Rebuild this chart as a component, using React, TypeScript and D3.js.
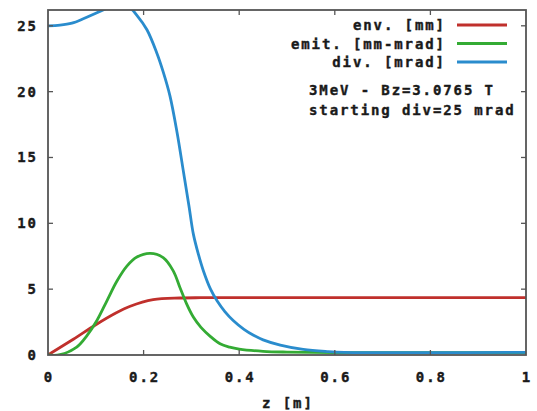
import React from "react";
import * as d3 from "d3";

const zEnv = [0, 0.053, 0.1, 0.14, 0.172, 0.22, 0.276, 0.32, 0.4, 1.0];
const env = [0, 1.2, 2.3, 3.15, 3.7, 4.2, 4.33, 4.35, 4.35, 4.35];

const zEmit = [0, 0.025, 0.06, 0.08, 0.102, 0.123, 0.144, 0.165, 0.186, 0.214, 0.241, 0.262, 0.276, 0.29, 0.304, 0.32, 0.34, 0.36, 0.38, 0.4, 0.45, 0.5, 0.6, 1.0];
const emit = [0, 0.02, 0.6, 1.4, 2.6, 4.1, 5.6, 6.75, 7.44, 7.72, 7.39, 6.39, 5.13, 3.88, 2.88, 2.1, 1.4, 0.85, 0.6, 0.45, 0.28, 0.22, 0.18, 0.18];

const zDiv = [0, 0.025, 0.05, 0.075, 0.1, 0.125, 0.15, 0.17, 0.186, 0.207, 0.228, 0.241, 0.255, 0.27, 0.283, 0.295, 0.304, 0.315, 0.325, 0.34, 0.354, 0.37, 0.388, 0.41, 0.43, 0.45, 0.486, 0.534, 0.584, 0.62, 1.0];
const div = [25.0, 25.05, 25.2, 25.55, 25.95, 26.35, 26.55, 26.4, 25.8, 24.7, 22.9, 21.5, 19.7, 16.9, 14.0, 11.3, 9.2, 7.6, 6.4, 5.0, 4.1, 3.3, 2.6, 1.95, 1.5, 1.15, 0.75, 0.42, 0.26, 0.2, 0.2];

const xTicks = [0, 0.2, 0.4, 0.6, 0.8, 1];
const xTickLabels = ["0", "0.2", "0.4", "0.6", "0.8", "1"];
const yTicks = [0, 5, 10, 15, 20, 25];
const yTickLabels = ["0", "5", "10", "15", "20", "25"];

const seriesNames = ["env. [mm]", "emit. [mm-mrad]", "div. [mrad]"];
const seriesColors = ["#c0302c", "#34ab34", "#2a8ccd"];
const notes = ["3MeV - Bz=3.0765 T", "starting div=25 mrad"];
const xTitle = "z [m]";

const W = 537, H = 411;
const L = 48, R = 526, T = 10, B = 355;

export default function App() {
  const x = d3.scaleLinear().domain([0, 1]).range([L, R]);
  const y = d3.scaleLinear().domain([0, 26.2]).range([B, T]);
  const line = (zs: number[], vs: number[]) =>
    d3.line<number>().x((_, i) => x(zs[i])).y((v) => y(v)).curve(d3.curveCatmullRom.alpha(0.5))(vs) || "";

  const series = [
    { z: zEnv, v: env },
    { z: zEmit, v: emit },
    { z: zDiv, v: div },
  ];
  const font = "'DejaVu Sans Mono', monospace";
  const ls = 1.9;
  const txt = { fontFamily: font, fontWeight: 700, fontSize: 14, letterSpacing: ls, fill: "#1a1a1a", stroke: "#1a1a1a", strokeWidth: 0.4 } as any;

  return (
    <svg width={W} height={H} style={{ position: "absolute", left: 0, top: 0, background: "#fff" }}>
      <defs>
        <clipPath id="plotclip">
          <rect x={L} y={T} width={R - L} height={B - T} />
        </clipPath>
      </defs>
      <rect x={0} y={0} width={W} height={H} fill="#fff" />
      <g clipPath="url(#plotclip)">
        {series.map((s, i) => (
          <path key={i} d={line(s.z, s.v)} fill="none" stroke={seriesColors[i]} strokeWidth={2.8} strokeLinejoin="round" />
        ))}
      </g>
      <rect x={L} y={T} width={R - L} height={B - T} fill="none" stroke="#555" strokeWidth={1.8} />
      {xTicks.map((t, i) => (
        <g key={"x" + i}>
          {t > 0 && t < 1 && (
            <>
              <line x1={x(t)} x2={x(t)} y1={B} y2={B - 5} stroke="#555" strokeWidth={1.3} />
              <line x1={x(t)} x2={x(t)} y1={T} y2={T + 5} stroke="#555" strokeWidth={1.3} />
            </>
          )}
          <text x={x(t) + ls / 2} y={382} textAnchor="middle" style={txt}>{xTickLabels[i]}</text>
        </g>
      ))}
      {yTicks.map((t, i) => (
        <g key={"y" + i}>
          {t > 0 && (
            <>
              <line x1={L} x2={L + 5} y1={y(t)} y2={y(t)} stroke="#555" strokeWidth={1.3} />
              <line x1={R} x2={R - 5} y1={y(t)} y2={y(t)} stroke="#555" strokeWidth={1.3} />
            </>
          )}
          <text x={36 + ls} y={y(t) + 5} textAnchor="end" style={txt}>{yTickLabels[i]}</text>
        </g>
      ))}
      <text x={(L + R) / 2 + ls / 2} y={408} textAnchor="middle" style={txt}>{xTitle}</text>
      {seriesNames.map((n, i) => {
        const cy = 25 + i * 18.5;
        return (
          <g key={"lg" + i}>
            <text x={444 + ls} y={cy + 5} textAnchor="end" style={txt}>{n}</text>
            <line x1={457} x2={507} y1={cy} y2={cy} stroke={seriesColors[i]} strokeWidth={2.8} />
          </g>
        );
      })}
      {notes.map((n, i) => (
        <text key={"n" + i} x={309} y={95 + i * 20} style={txt}>{n}</text>
      ))}
    </svg>
  );
}
